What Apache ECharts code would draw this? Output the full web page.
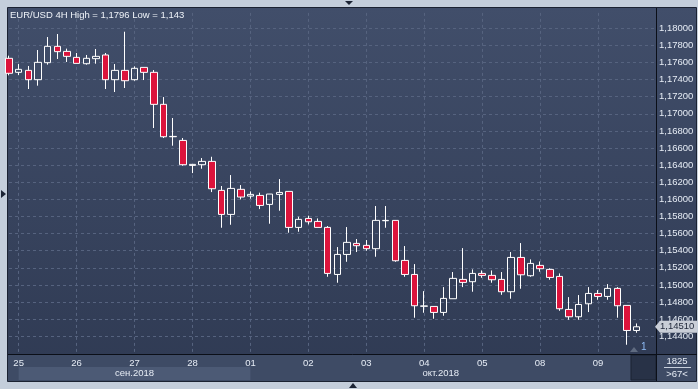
<!DOCTYPE html>
<html><head><meta charset="utf-8">
<script src="https://cdn.jsdelivr.net/npm/echarts@6/dist/echarts.min.js"></script>
<style>html,body{margin:0;padding:0;background:#c4cedb;overflow:hidden}#c{width:698px;height:389px}</style>
</head><body><div id="c"></div><script>
const titleText = 'EUR/USD 4H High = 1,1796 Low = 1,143';
const dayLabels = ['24','25','26','27','28','01','02','03','04','05','08','09','10'];
const hourLabels = ['00','04','08','12','16','20'];
const monthLabels = ['сен.2018','окт.2018'];
const cornerTop = '1825';
const cornerBottom = '>67<';
const opens = [1.17649,1.17485,1.17508,1.17399,1.17598,1.17789,1.17730,1.17660,1.17586,1.17645,
1.17688,1.17399,1.17508,1.17399,1.17543,1.17485,1.17111,1.16732,1.16689,1.16397,
1.16405,1.16444,1.16105,1.15824,1.16117,1.16038,1.16046,1.15941,1.16058,1.16093,
1.15672,1.15777,1.15742,1.15672,1.15122,1.15356,1.15485,1.15462,1.15423,1.15750,
1.15754,1.15286,1.15122,1.14750,1.14748,1.14678,1.14838,1.15064,1.15037,1.15134,
1.15111,1.15064,1.14920,1.15321,1.15107,1.15228,1.15181,1.15099,1.14713,1.14627,
1.14779,1.14900,1.14865,1.14959,1.14760,1.14467];
const closes = [1.17474,1.17520,1.17399,1.17602,1.17789,1.17727,1.17672,1.17590,1.17649,1.17672,
1.17399,1.17508,1.17387,1.17532,1.17485,1.17111,1.16732,1.16736,1.16405,1.16409,
1.16444,1.16124,1.15824,1.16128,1.16027,1.16058,1.15929,1.16062,1.16081,1.15672,
1.15766,1.15738,1.15672,1.15134,1.15356,1.15497,1.15458,1.15423,1.15754,1.15754,
1.15282,1.15122,1.14756,1.14754,1.14678,1.14842,1.15076,1.15029,1.15134,1.15111,
1.15060,1.14920,1.15321,1.15118,1.15251,1.15189,1.15087,1.14721,1.14627,1.14771,
1.14900,1.14865,1.14959,1.14756,1.14467,1.14510];
const lows = [1.17450,1.17454,1.17290,1.17329,1.17575,1.17641,1.17606,1.17590,1.17575,1.17586,
1.17290,1.17255,1.17302,1.17387,1.17395,1.16834,1.16717,1.16627,1.16393,1.16307,
1.16358,1.16085,1.15668,1.15703,1.15999,1.16007,1.15886,1.15715,1.15867,1.15610,
1.15621,1.15707,1.15672,1.15095,1.15025,1.15270,1.15384,1.15399,1.15329,1.15668,
1.15270,1.15095,1.14616,1.14674,1.14604,1.14639,1.14838,1.14974,1.14920,1.15083,
1.15025,1.14884,1.14838,1.14955,1.15095,1.15154,1.15060,1.14697,1.14592,1.14592,
1.14682,1.14826,1.14826,1.14616,1.14300,1.14440];
const highs = [1.17680,1.17582,1.17559,1.17746,1.17898,1.17933,1.17762,1.17711,1.17688,1.17758,
1.17711,1.17582,1.17960,1.17555,1.17543,1.17512,1.17196,1.16951,1.16717,1.16409,
1.16483,1.16498,1.16156,1.16284,1.16167,1.16093,1.16078,1.16062,1.16237,1.16093,
1.15797,1.15809,1.15777,1.15688,1.15442,1.15676,1.15536,1.15524,1.15922,1.15922,
1.15754,1.15454,1.15243,1.14927,1.14748,1.14974,1.15150,1.15430,1.15181,1.15169,
1.15169,1.15150,1.15384,1.15489,1.15298,1.15274,1.15193,1.15134,1.14857,1.14881,
1.14974,1.14939,1.15009,1.14974,1.14760,1.14549];

// categories: first candle is 24th 20:00, then full days, padded with future slots
const categories = ['24 20'];
dayLabels.slice(1, 12).forEach(d => hourLabels.forEach(h => categories.push(d + ' ' + h)));
categories.push(dayLabels[12] + ' 00');
const candleData = opens.map((o, i) => [o, closes[i], lows[i], highs[i]]);
const lastIdx = opens.length - 1;

const isDayStart = (idx, val) => idx <= lastIdx && String(val).endsWith(' 00');
const fmtPrice = v => v.toFixed(5).replace('.', ',');

const FONT = 'Liberation Sans';
const FS = 9.5;
const chart = echarts.init(document.getElementById('c'), null, {renderer: 'canvas'});
chart.setOption({
  animation: false,
  backgroundColor: '#c4cedb',
  grid: {left: 9, right: 42, top: 12.9, bottom: 35.7, containLabel: false},
  xAxis: {
    type: 'category', data: categories, boundaryGap: false,
    axisLine: {show: false}, axisTick: {show: false},
    axisLabel: {interval: isDayStart, formatter: v => v.split(' ')[0], color: '#e6ecf5',
      fontSize: FS, fontFamily: FONT, margin: 5},
    splitLine: {show: true, interval: isDayStart, lineStyle: {color: '#56637f', type: [3, 3], width: 1}}
  },
  yAxis: {
    type: 'value', position: 'right', min: 1.142, max: 1.1818, interval: 0.002, scale: true,
    axisLine: {show: false}, axisTick: {show: false},
    axisLabel: {formatter: v => (v < 1.1425 || v > 1.1805 ? '' : fmtPrice(v)), color: '#e6ecf5', fontSize: FS,
      fontFamily: FONT, margin: 3, showMaxLabel: false, showMinLabel: false},
    splitLine: {show: true, showMinLine: false, showMaxLine: false, lineStyle: {color: '#56637f', type: [3, 3], width: 1}}
  },
  series: [{
    type: 'candlestick', data: candleData, barWidth: 7, clip: true,
    itemStyle: {color: 'transparent', color0: '#dc143c', borderColor: '#ffffff', borderColor0: '#ffffff', borderWidth: 1}
  }]
});

const px = i => chart.convertToPixel({xAxisIndex: 0}, i);
const py = v => chart.convertToPixel({yAxisIndex: 0}, v);
const sepStart = px(1), octStart = px(25);
const tagY = py(closes[lastIdx]);
const font = FS + 'px ' + FONT;
const g = [];
// panel background
g.push({type: 'rect', z: -20, shape: {x: 7.5, y: 7.5, width: 689, height: 374},
  style: {fill: new echarts.graphic.LinearGradient(0, 0, 0, 1, [{offset: 0, color: '#414e6a'}, {offset: 1, color: '#2f3a53'}]), stroke: '#1b2232', lineWidth: 1}});
// bottom axis area
g.push({type: 'rect', z: -19, shape: {x: 8, y: 355, width: 688, height: 26}, style: {fill: '#3e4b65'}});
g.push({type: 'rect', z: -18, shape: {x: sepStart, y: 367, width: octStart - sepStart, height: 13}, style: {fill: '#4c5a75'}});
g.push({type: 'rect', z: -18, shape: {x: 631, y: 355, width: 25, height: 25}, style: {fill: '#283247', stroke: '#1b2232', lineWidth: 1}});
// separators
g.push({type: 'line', z: 50, shape: {x1: 656.5, y1: 8, x2: 656.5, y2: 381}, style: {stroke: '#0b0f18', lineWidth: 1}});
g.push({type: 'line', z: 50, shape: {x1: 8, y1: 354.5, x2: 697, y2: 354.5}, style: {stroke: '#0b0f18', lineWidth: 1}});
// month labels
g.push({type: 'text', z: 50, style: {text: monthLabels[0], x: (sepStart + octStart) / 2, y: 373.5, align: 'center', verticalAlign: 'middle', fill: '#e6ecf5', font: font}});
g.push({type: 'text', z: 50, style: {text: monthLabels[1], x: (octStart + 631) / 2, y: 373.5, align: 'center', verticalAlign: 'middle', fill: '#e6ecf5', font: font}});
// corner box
g.push({type: 'text', z: 50, style: {text: cornerTop, x: 677, y: 361.5, align: 'center', verticalAlign: 'middle', fill: '#e6ecf5', font: font}});
g.push({type: 'line', z: 50, shape: {x1: 664, y1: 367.5, x2: 691, y2: 367.5}, style: {stroke: '#c8d0dc', lineWidth: 1}});
g.push({type: 'text', z: 50, style: {text: cornerBottom, x: 677, y: 374.5, align: 'center', verticalAlign: 'middle', fill: '#e6ecf5', font: font}});
// title
g.push({type: 'text', z: 50, style: {text: titleText, x: 10, y: 15, verticalAlign: 'middle', fill: '#eef2f8', font: font}});
// price tag
g.push({type: 'polygon', z: 60, shape: {points: [[655, tagY], [660, tagY - 6], [697, tagY - 6], [697, tagY + 6], [660, tagY + 6]]}, style: {fill: '#c9ced7'}});
g.push({type: 'text', z: 61, style: {text: fmtPrice(closes[lastIdx]), x: 660, y: tagY, verticalAlign: 'middle', fill: '#1e2638', font: font}});
// bar count marker
g.push({type: 'polygon', z: 50, shape: {points: [[630, 352], [634, 347], [638, 352]]}, style: {fill: '#5f6b80'}});
g.push({type: 'text', z: 50, style: {text: '1', x: 641, y: 347, verticalAlign: 'middle', fill: '#8fbcf5', font: '10px ' + FONT}});
// frame arrows
g.push({type: 'polygon', z: 50, shape: {points: [[345, 1], [353, 1], [349, 5]]}, style: {fill: '#1c2435'}});
g.push({type: 'polygon', z: 50, shape: {points: [[349, 388], [357, 388], [353, 383]]}, style: {fill: '#1c2435'}});
g.push({type: 'polygon', z: 50, shape: {points: [[1, 190], [1, 198], [6, 194]]}, style: {fill: '#1c2435'}});
chart.setOption({graphic: g});
</script></body></html>
